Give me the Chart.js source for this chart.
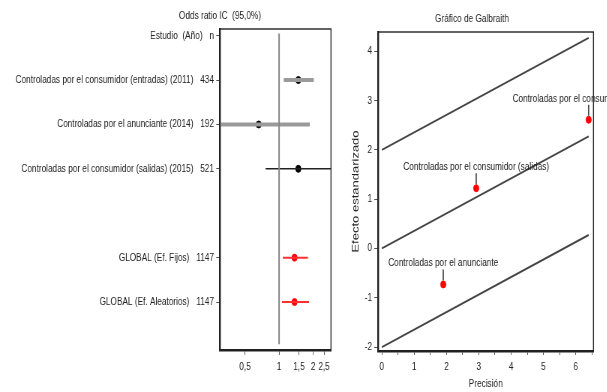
<!DOCTYPE html>
<html>
<head>
<meta charset="utf-8">
<script src="https://cdn.jsdelivr.net/npm/chart.js@4.4.1/dist/chart.umd.min.js"></script>
<style>
  body { margin: 0; background: #fff; width: 607px; height: 392px; overflow: hidden; position: relative; }
  canvas { position: absolute; top: 0; transform-origin: 0 0; transform: scaleX(0.75); }
  #forest { left: 0; }
  #galbraith { left: 330px; }
</style>
</head>
<body>
<canvas id="forest" width="460" height="392"></canvas>
<canvas id="galbraith" width="370" height="392"></canvas>
<script>
// forest plot data
const estudios = [
  "Controladas por el consumidor (entradas) (2011)",
  "Controladas por el anunciante (2014)",
  "Controladas por el consumidor (salidas) (2015)",
  "GLOBAL (Ef. Fijos)",
  "GLOBAL (Ef. Aleatorios)"
];
const tamanos = [434, 192, 521, 1147, 1147];
const filas = [1, 2, 3, 5, 6];
const oddsRatio = [1.48, 0.66, 1.48, 1.37, 1.37];
const icInferior = [1.10, 0.30, 0.76, 1.08, 1.06];
const icSuperior = [2.03, 1.87, 3.20, 1.80, 1.84];
const ticksOR = [0.5, 1, 1.5, 2, 2.5];

// galbraith data
const etiquetasGalbraith = [
  "Controladas por el consumidor (entradas)",
  "Controladas por el consumidor (salidas)",
  "Controladas por el anunciante"
];
const precision = [6.4, 2.92, 1.9];
const efectoEst = [2.61, 1.22, -0.73];
const bandaCortes = [2, 0, -2];
const pendiente = 0.355;
const precisionMax = 6.4;
const ticksPrecision = [0, 0.5, 1, 1.5, 2, 2.5, 3, 3.5, 4, 4.5, 5, 5.5, 6, 6.5];
const ticksEfecto = [-2, -1, 0, 1, 2, 3, 4];

// the canvases are squeezed horizontally by this factor (narrow look of the original)
var S = 0.75;
var fuente = "'Liberation Sans', Arial, sans-serif";

Chart.defaults.font.family = fuente;
Chart.defaults.font.size = 11;
Chart.defaults.color = "#222";
Chart.defaults.animation = false;

var colorLinea = ["#9a9a9a", "#9a9a9a", "#222", "#ff3030", "#ff3030"];
var anchoLinea = [4, 4, 1.5, 2, 2];
var colorPunto = ["#000", "#000", "#000", "#f00", "#f00"];

function caja(ctx, area) {
  ctx.save();
  ctx.strokeStyle = "#222";
  ctx.lineWidth = 1.4;
  ctx.strokeRect(area.left, area.top, area.right - area.left, area.bottom - area.top);
  ctx.restore();
}

var forestDatasets = estudios.map(function (e, i) {
  return {
    type: "line",
    data: [{ x: icInferior[i], y: filas[i] }, { x: icSuperior[i], y: filas[i] }],
    borderColor: colorLinea[i],
    borderWidth: anchoLinea[i],
    pointRadius: 0
  };
});
forestDatasets.unshift({
  type: "line",
  data: [{ x: 1, y: -0.05 }, { x: 1, y: 6.95 }],
  borderColor: "#888",
  borderWidth: 2,
  pointRadius: 0
});
forestDatasets.push({
  type: "scatter",
  data: oddsRatio.map((v, i) => ({ x: v, y: filas[i] })),
  pointBackgroundColor: colorPunto,
  pointBorderColor: colorPunto,
  pointRadius: 3.5
});

var forestChart = new Chart(document.getElementById("forest"), {
  type: "scatter",
  data: { datasets: forestDatasets },
  options: {
    responsive: false,
    layout: { padding: { top: 29, right: 14 / S, bottom: 0, left: 0 } },
    plugins: { legend: { display: false }, tooltip: { enabled: false } },
    scales: {
      x: {
        type: "logarithmic",
        min: 0.327,
        max: 2.88,
        afterBuildTicks: (s) => { s.ticks = ticksOR.map((v) => ({ value: v })); },
        afterFit: (s) => { s.height = 42; },
        ticks: {
          autoSkip: false,
          maxRotation: 0,
          padding: 5,
          callback: (v) => String(v).replace(".", ",")
        },
        grid: { drawOnChartArea: false, drawTicks: true, tickLength: 5, color: "#666" },
        border: { color: "#222", width: 2.4 }
      },
      y: {
        type: "linear",
        reverse: true,
        min: -0.15,
        max: 7.08,
        afterBuildTicks: (s) => { s.ticks = [0].concat(filas).map((v) => ({ value: v })); },
        afterFit: (s) => { s.width = 220 / S; },
        ticks: {
          autoSkip: false,
          padding: 3,
          callback: function (v) {
            if (v === 0) return "Estudio  (Año)   n";
            var i = filas.indexOf(v);
            return estudios[i] + "   " + tamanos[i];
          }
        },
        grid: { drawOnChartArea: false, drawTicks: true, tickLength: 5, color: "#555" },
        border: { color: "#222", width: 2.4 }
      }
    }
  },
  plugins: [{
    id: "marco",
    afterDraw: function (chart) {
      var ctx = chart.ctx;
      caja(ctx, chart.chartArea);
      ctx.save();
      ctx.fillStyle = "#222";
      ctx.font = "11px " + fuente;
      ctx.textAlign = "center";
      ctx.textBaseline = "middle";
      ctx.fillText("Odds ratio IC  (95,0%)", 220 / S, 16);
      ctx.restore();
    }
  }]
});

var galbraithDatasets = bandaCortes.map(function (c) {
  return {
    type: "line",
    data: [{ x: 0, y: c }, { x: precisionMax, y: c + pendiente * precisionMax }],
    borderColor: "#444",
    borderWidth: 2,
    pointRadius: 0
  };
});
galbraithDatasets.push({
  type: "scatter",
  data: precision.map((p, i) => ({ x: p, y: efectoEst[i] })),
  pointBackgroundColor: "#f00",
  pointBorderColor: "#f00",
  pointRadius: 3.5
});

var galbraithChart = new Chart(document.getElementById("galbraith"), {
  type: "scatter",
  data: { datasets: galbraithDatasets },
  options: {
    responsive: false,
    layout: { padding: { top: 32, right: 14 / S, bottom: 0, left: 0 } },
    plugins: { legend: { display: false }, tooltip: { enabled: false } },
    scales: {
      x: {
        type: "linear",
        min: -0.12,
        max: 6.55,
        afterBuildTicks: (s) => { s.ticks = ticksPrecision.map((v) => ({ value: v })); },
        afterFit: (s) => { s.height = 41; },
        ticks: {
          autoSkip: false,
          maxRotation: 0,
          padding: 5,
          callback: (v) => (Number.isInteger(v) ? String(v) : "")
        },
        grid: { drawOnChartArea: false, drawTicks: true, tickLength: 4, color: "#555" },
        border: { color: "#222", width: 2.4 }
      },
      y: {
        type: "linear",
        min: -2.08,
        max: 4.39,
        afterBuildTicks: (s) => { s.ticks = ticksEfecto.map((v) => ({ value: v })); },
        afterFit: (s) => { s.width = 48 / S; },
        ticks: { autoSkip: false, padding: 3 },
        grid: { drawOnChartArea: false, drawTicks: true, tickLength: 5, color: "#555" },
        border: { color: "#222", width: 2.4 }
      }
    }
  },
  plugins: [{
    id: "etiquetas",
    afterDraw: function (chart) {
      var ctx = chart.ctx;
      var area = chart.chartArea;
      var xs = chart.scales.x;
      var ys = chart.scales.y;
      caja(ctx, area);
      ctx.save();
      ctx.fillStyle = "#222";
      ctx.font = "11px " + fuente;
      ctx.textAlign = "center";
      ctx.textBaseline = "middle";
      ctx.fillText("Gráfico de Galbraith", 142 / S, 19);
      ctx.fillText("Precisión", (area.left + area.right) / 2, 384);
      ctx.save();
      ctx.translate(26 / S, (area.top + area.bottom) / 2);
      ctx.rotate(-Math.PI / 2);
      ctx.font = "13px " + fuente;
      ctx.fillText("Efecto estandarizado", 0, 0);
      ctx.restore();
      ctx.strokeStyle = "#222";
      ctx.lineWidth = 1.4;
      etiquetasGalbraith.forEach(function (t, i) {
        var px = xs.getPixelForValue(precision[i]);
        var py = ys.getPixelForValue(efectoEst[i]);
        ctx.fillText(t, px, py - 21);
        ctx.beginPath();
        ctx.moveTo(px, py - 15);
        ctx.lineTo(px, py - 4);
        ctx.stroke();
      });
      ctx.restore();
    }
  }]
});
</script>
</body>
</html>
